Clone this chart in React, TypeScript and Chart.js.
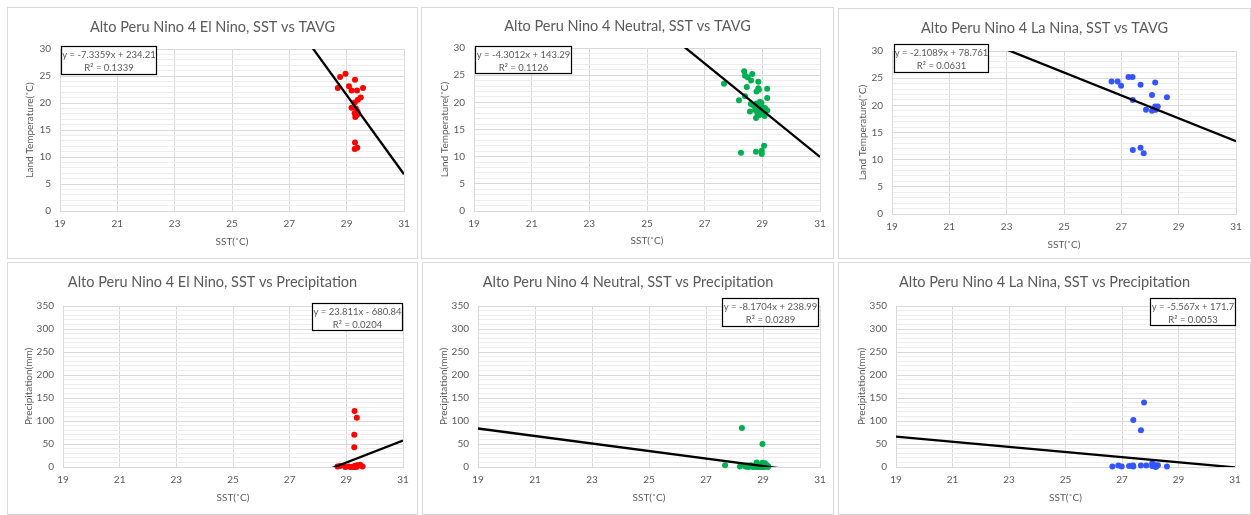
import { useEffect, useRef } from 'react';
import { Chart, registerables } from 'chart.js';

Chart.register(...registerables);

// ---------- DATA ----------
const sstAxisLabel = 'SST(˚C)';
const tempAxisLabel = 'Land Temperature(˚C)';
const precipAxisLabel = 'Precipitation(mm)';

const chartTitles = [
  'Alto Peru Nino 4 El Nino, SST vs TAVG',
  'Alto Peru Nino 4 Neutral, SST vs TAVG',
  'Alto Peru Nino 4 La Nina, SST vs TAVG',
  'Alto Peru Nino 4 El Nino, SST vs Precipitation',
  'Alto Peru Nino 4 Neutral, SST vs Precipitation',
  'Alto Peru Nino 4 La Nina, SST vs Precipitation',
];

// El Nino months
const elNinoSST = [28.69, 28.77, 28.96, 29.08, 29.17, 29.29, 29.36, 29.57, 29.49, 29.39, 29.28, 29.17, 29.32, 29.38, 29.28, 29.30, 29.36, 29.29, 29.37, 29.28];
const elNinoTAVG = [22.8, 24.8, 25.4, 23.1, 22.3, 24.3, 22.3, 22.8, 21.0, 20.6, 20.1, 19.1, 19.0, 18.4, 18.1, 17.4, 17.8, 12.7, 11.7, 11.5];
const elNinoPRCP = [1, 2, 0, 1, 0, 2, 1, 1, 5, 3, 43, 0, 2, 4, 0, 1, 0, 122, 107, 70];

// Neutral months
const neutralSST = [27.67, 28.19, 28.26, 28.37, 28.40, 28.49, 28.46, 28.40, 28.61, 28.65, 28.57, 28.78, 28.86, 28.86, 28.80, 28.88, 29.17, 29.17, 29.17, 29.06, 28.98, 28.98, 28.60, 28.80, 28.75, 28.92, 28.78, 29.03, 28.85, 28.95, 28.90, 29.00, 28.83, 29.08, 28.88, 28.97, 28.70, 29.10, 28.92, 29.05];
const neutralTAVG = [23.4, 20.4, 10.7, 25.7, 24.9, 24.6, 22.8, 21.1, 24.0, 25.2, 18.3, 10.9, 23.8, 22.6, 22.0, 22.3, 22.5, 20.8, 18.5, 12.0, 11.1, 10.5, 19.7, 19.8, 18.6, 18.0, 17.1, 17.7, 19.5, 19.2, 18.8, 18.3, 18.0, 17.5, 17.6, 19.9, 19.4, 18.9, 20.1, 19.0];
const neutralPRCP = [4, 1, 85, 2, 1, 0, 3, 1, 2, 0, 4, 10, 1, 2, 0, 3, 1, 2, 0, 8, 50, 9, 1, 2, 0, 3, 1, 5, 0, 2, 1, 0, 4, 2, 1, 0, 3, 6, 1, 0];

// La Nina months
const laNinaSST = [26.66, 26.87, 26.99, 27.25, 27.39, 27.40, 27.67, 28.18, 28.07, 28.59, 27.86, 28.07, 28.18, 28.27, 28.20, 27.40, 27.67, 27.78, 28.22];
const laNinaTAVG = [24.4, 24.4, 23.6, 25.2, 25.2, 21.0, 23.8, 24.2, 21.9, 21.5, 19.2, 19.0, 19.8, 19.8, 19.2, 11.8, 12.2, 11.2, 19.6];
const laNinaPRCP = [1, 3, 1, 2, 3, 1, 3, 4, 8, 1, 3, 2, 1, 4, 0, 102, 80, 140, 2];

// Linear trendlines (as displayed)
const trendSlopes = [-7.3359, -4.3012, -2.1089, 23.811, -8.1704, -5.567];
const trendIntercepts = [234.21, 143.29, 78.761, -680.84, 238.99, 171.7];
const equationLabels = [
  'y = -7.3359x + 234.21',
  'y = -4.3012x + 143.29',
  'y = -2.1089x + 78.761',
  'y = 23.811x - 680.84',
  'y = -8.1704x + 238.99',
  'y = -5.567x + 171.7',
];
const r2Labels = ['R² = 0.1339', 'R² = 0.1126', 'R² = 0.0631', 'R² = 0.0204', 'R² = 0.0289', 'R² = 0.0053'];

const xRange = [19, 31];
const xStep = 2;
const tempRange = [0, 30];
const precipRange = [0, 350];

// ---------- STYLE / LAYOUT ----------
const FONT = 'Lato, "Open Sans", "DejaVu Sans", sans-serif';
const TEXT = '#595959';
const MAJOR_GRID = '#d9d9d9';
const MINOR_GRID = '#ededed';
const COLORS = ['#ff0000', '#00b050', '#3355ff', '#ff0000', '#00b050', '#3355ff'];

// page coordinates
const PANEL_BOX = [[7, 7, 411, 252], [421, 7, 413, 252], [838, 8, 413, 251], [7, 262, 411, 253], [422, 262, 412, 253], [838, 262, 413, 253]];
const PLOT_AREA = [[60, 49, 404, 211], [474, 48, 820, 211], [892, 51, 1236, 214], [63, 306, 403, 467], [478, 306, 820, 467], [896, 306, 1235, 467]];
const TITLE_Y = [27, 26, 28, 282, 282, 282];
const YTITLE_X = [30, 445, 863, 29, 444, 862];
const XTITLE_Y = [242, 241, 245, 498, 498, 498];
const EQ_BOX = [[61, 46, 96, 29], [475, 46, 97, 28], [894, 44, 95, 29], [312, 303, 91, 28], [722, 298, 97, 29], [1150, 298, 86, 28]];
const X_SCALE_H = 45;

const panelSST = [elNinoSST, neutralSST, laNinaSST, elNinoSST, neutralSST, laNinaSST];
const panelValues = [elNinoTAVG, neutralTAVG, laNinaTAVG, elNinoPRCP, neutralPRCP, laNinaPRCP];

function Panel({ i }: { i: number }) {
  const ref = useRef<HTMLCanvasElement | null>(null);
  const [px, py, pw, ph] = PANEL_BOX[i];
  useEffect(() => {
    if (!ref.current) return;
    const isTemp = i < 3;
    const yr = isTemp ? tempRange : precipRange;
    const minor = isTemp ? 1 : 10;
    const major = isTemp ? 5 : 50;
    const [al, at, ar, ab] = PLOT_AREA[i];
    const pts = panelSST[i].map((x, k) => ({ x, y: panelValues[i][k] }));
    const trend = xRange.map((x) => ({ x, y: trendSlopes[i] * x + trendIntercepts[i] }));
    const lh = 12;
    const ytPad = YTITLE_X[i] - px - lh / 2;
    const xtPad = ab + X_SCALE_H - XTITLE_Y[i] - lh / 2;

    const decor = {
      id: 'decor' + i,
      afterDraw(chart: any) {
        const c = chart.ctx;
        c.save();
        c.font = `14.5px ${FONT}`;
        c.fillStyle = TEXT;
        c.textAlign = 'center';
        c.textBaseline = 'middle';
        c.fillText(chartTitles[i], pw / 2, TITLE_Y[i] - py);
        const [bx, by, bw, bh] = EQ_BOX[i];
        const x0 = bx - px, y0 = by - py;
        c.fillStyle = '#ffffff';
        c.fillRect(x0, y0, bw, bh);
        c.strokeStyle = '#000000';
        c.lineWidth = 1.2;
        c.strokeRect(x0 + 0.5, y0 + 0.5, bw - 1, bh - 1);
        c.fillStyle = TEXT;
        c.font = `9.5px ${FONT}`;
        c.fillText(equationLabels[i], x0 + bw / 2, y0 + 8.5);
        c.fillText(r2Labels[i], x0 + bw / 2, y0 + 21.5);
        c.restore();
      },
    };

    const chart = new Chart(ref.current, {
      type: 'scatter',
      data: {
        datasets: [
          {
            type: 'line',
            data: trend,
            borderColor: '#000000',
            borderWidth: 2.3,
            pointRadius: 0,
            fill: false,
            tension: 0,
          } as any,
          {
            data: pts,
            backgroundColor: COLORS[i],
            borderColor: COLORS[i],
            borderWidth: 0,
            pointRadius: 3,
            clip: false,
          } as any,
        ],
      },
      options: {
        responsive: false,
        animation: false,
        layout: {
          padding: {
            left: 0,
            top: at - py,
            right: px + pw - ar,
            bottom: py + ph - (ab + X_SCALE_H),
          },
        },
        plugins: { legend: { display: false }, tooltip: { enabled: false }, title: { display: false } },
        scales: {
          x: {
            type: 'linear',
            min: xRange[0],
            max: xRange[1],
            ticks: { stepSize: xStep, color: TEXT, font: { family: FONT, size: 10 }, padding: 7, autoSkip: false, maxRotation: 0 },
            grid: { color: MAJOR_GRID, drawTicks: false },
            border: { color: MAJOR_GRID },
            title: { display: true, text: sstAxisLabel, color: TEXT, font: { family: FONT, size: 10 }, padding: { top: 0, bottom: xtPad } },
            afterFit: (s: any) => { s.height = X_SCALE_H; },
          },
          y: {
            type: 'linear',
            min: yr[0],
            max: yr[1],
            ticks: {
              stepSize: minor,
              maxTicksLimit: 1000,
              autoSkip: false,
              color: TEXT,
              font: { family: FONT, size: 10 },
              padding: 9,
              callback: (v: any) => (Math.round(v) % major === 0 ? String(Math.round(v)) : ''),
            },
            grid: {
              drawTicks: false,
              color: (ctx: any) => (ctx.tick && Math.round(ctx.tick.value) % major === 0 ? MAJOR_GRID : MINOR_GRID),
            },
            border: { color: MAJOR_GRID },
            title: { display: true, text: isTemp ? tempAxisLabel : precipAxisLabel, color: TEXT, font: { family: FONT, size: 10 }, padding: { top: ytPad, bottom: 0 } },
            afterFit: (s: any) => { s.width = al - px; },
          },
        },
      } as any,
      plugins: [decor],
    });
    return () => chart.destroy();
  }, [i]);
  return (
    <>
      <div style={{ position: 'absolute', left: px, top: py, width: pw, height: ph, border: '1px solid #d9d9d9', boxSizing: 'border-box' }} />
      <canvas ref={ref} width={pw} height={ph} style={{ position: 'absolute', left: px, top: py, width: pw, height: ph }} />
    </>
  );
}

export default function App() {
  return (
    <div style={{ position: 'absolute', left: 0, top: 0, width: 1251, height: 515, background: '#ffffff', overflow: 'hidden' }}>
      {[0, 1, 2, 3, 4, 5].map((i) => (
        <Panel key={i} i={i} />
      ))}
    </div>
  );
}
